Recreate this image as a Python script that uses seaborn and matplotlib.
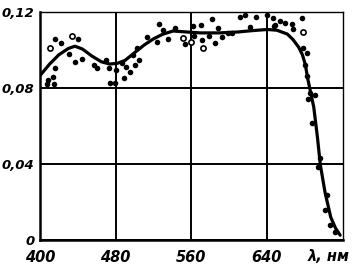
import matplotlib
matplotlib.use("Agg")
import matplotlib.pyplot as plt
import seaborn as sns
import pandas as pd

# measured points (filled)
pts_wl = [415.9, 422.3, 440.3, 430.8, 437.1, 444.6, 457.3, 460.5, 470.0, 473.2,
          474.3, 479.6, 480.6, 487.0, 491.2, 495.5, 500.8, 505.0, 498.7, 502.9,
          513.5, 524.1, 526.3, 530.5, 535.8, 415.9, 413.8, 414.9, 408.5, 407.4,
          489.1, 543.2, 553.8, 562.3, 563.4, 570.8, 571.9, 579.3, 582.5, 585.7,
          588.9, 593.1, 599.5, 603.7, 612.2, 617.5, 622.8, 629.2, 640.8, 647.2,
          649.3, 654.6, 660.0, 667.4, 678.0, 648.3, 668.4, 679.1, 683.3, 681.2,
          683.3, 686.5, 691.8, 684.4, 688.6, 697.1, 695.0, 704.5, 702.4, 707.7,
          713.0]
pts_val = [0.1057, 0.1036, 0.1057, 0.0978, 0.0936, 0.0952, 0.0920, 0.0905, 0.0947, 0.0905,
           0.0826, 0.0826, 0.0894, 0.0931, 0.0910, 0.0884, 0.0920, 0.0947, 0.0973, 0.1010,
           0.1068, 0.1042, 0.1136, 0.1105, 0.1057, 0.0905, 0.0857, 0.0821, 0.0842, 0.0821,
           0.0852, 0.1115, 0.1031, 0.1126, 0.1073, 0.1131, 0.1052, 0.1073, 0.1163, 0.1036,
           0.1115, 0.1068, 0.1089, 0.1089, 0.1173, 0.1184, 0.1120, 0.1173, 0.1184, 0.1168,
           0.1131, 0.1152, 0.1142, 0.1136, 0.1168, 0.1126, 0.1110, 0.1010, 0.0984, 0.0921,
           0.0863, 0.0773, 0.0763, 0.0742, 0.0615, 0.0431, 0.0384, 0.0237, 0.0158, 0.0079,
           0.0042]

# measured points (open)
open_wl = [410.6, 434.0, 551.7, 572.9, 679.1, 560.2]
open_val = [0.1010, 0.1073, 0.1063, 0.1010, 0.1094, 0.1042]

# fitted curve
curve_wl = [400, 410, 420, 430, 437, 445, 455, 465, 474, 482, 490, 500, 510, 520,
            530, 541, 555, 570, 590, 610, 625, 641, 651, 662, 668, 674, 678, 681,
            684, 687, 690, 694, 697, 702, 708, 713, 718]
curve_val = [0.0865, 0.0925, 0.0975, 0.1008, 0.1020, 0.1005, 0.0968, 0.0938, 0.0926, 0.0930,
             0.0945, 0.0985, 0.1025, 0.1058, 0.1083, 0.1100, 0.1095, 0.1090, 0.1090, 0.1095,
             0.1102, 0.1108, 0.1104, 0.1084, 0.1055, 0.1015, 0.0975, 0.0925, 0.0840, 0.0770,
             0.0700, 0.0537, 0.0395, 0.0250, 0.0120, 0.0063, 0.0025]

x_ticks = [400, 480, 560, 640]
x_labels = ["400", "480", "560", "640"]
y_ticks = [0, 0.04, 0.08, 0.12]
y_labels = ["0", "0,04", "0,08", "0,12"]
x_unit = "λ, нм"

sns.set_theme(style="white")
plt.rcParams['font.family'] = ['DejaVu Sans']

fig = plt.figure(figsize=(3.53, 2.71), dpi=100)
ax = fig.add_axes([40 / 353, 31 / 271, 303 / 353, 228 / 271])

df_pts = pd.DataFrame({"wl": pts_wl, "val": pts_val})
df_open = pd.DataFrame({"wl": open_wl, "val": open_val})
df_curve = pd.DataFrame({"wl": curve_wl, "val": curve_val})

ax.set_xlim(400, 721)
ax.set_ylim(0, 0.12)
ax.set_xticks(x_ticks)
ax.set_xticklabels(x_labels)
ax.set_yticks(y_ticks)
ax.set_yticklabels(y_labels)
ax.grid(True, color="black", linewidth=1.4)
ax.set_axisbelow(True)

sns.lineplot(data=df_curve, x="wl", y="val", ax=ax, color="black", linewidth=2.3, sort=True)
sns.scatterplot(data=df_pts, x="wl", y="val", ax=ax, color="black", s=16, edgecolor="black",
                linewidth=0, zorder=3)
sns.scatterplot(data=df_open, x="wl", y="val", ax=ax, facecolor="white", s=14,
                edgecolor="black", linewidth=1.2, zorder=3)

for side in ["left", "bottom"]:
    ax.spines[side].set_linewidth(1.8)
    ax.spines[side].set_color("black")
for side in ["top", "right"]:
    ax.spines[side].set_linewidth(1.0)
    ax.spines[side].set_color("black")

ax.set_xlabel("")
ax.set_ylabel("")
ax.tick_params(axis="x", length=0, labelsize=10.5, colors="black", pad=7)
ax.tick_params(axis="y", length=0, labelsize=9.5, colors="black", pad=4)
for lab in ax.get_xticklabels() + ax.get_yticklabels():
    lab.set_fontstyle("italic")
    lab.set_fontweight("bold")

fig.text(350 / 353, 1 - 249 / 271, x_unit, ha="right", va="top",
         fontsize=10.5, fontstyle="italic", fontweight="bold", color="black")

fig.savefig("out.png", dpi=100, facecolor="white")
